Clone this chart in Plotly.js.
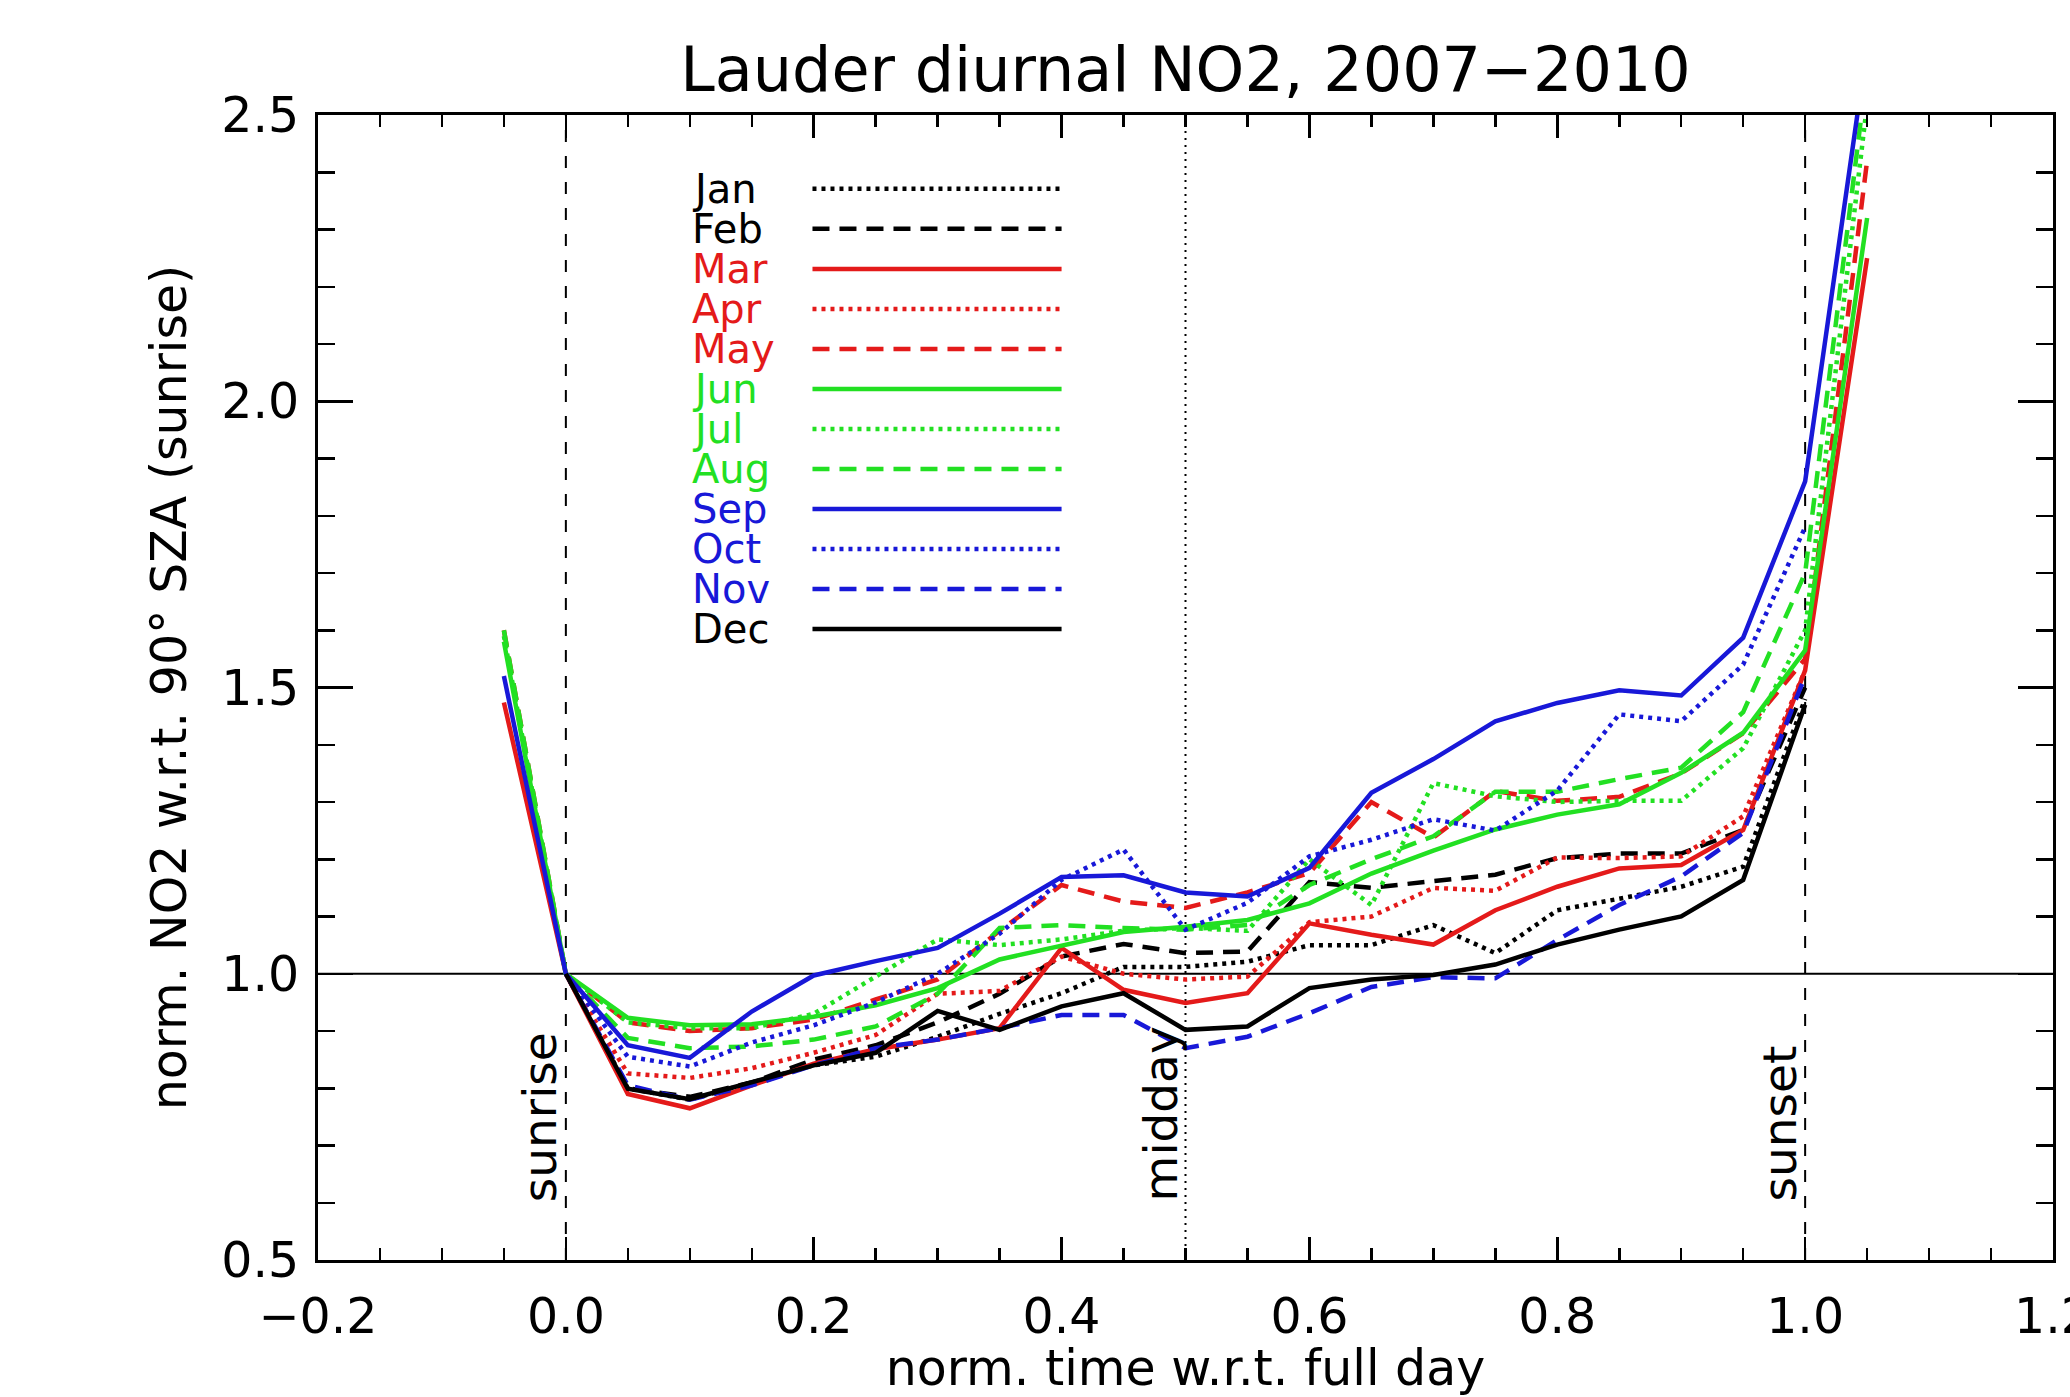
<!DOCTYPE html>
<html>
<head>
<meta charset="utf-8">
<script src="https://cdn.plot.ly/plotly-3.0.1.min.js"></script>
<style>html,body{margin:0;padding:0;background:#fff;}#chart{width:2070px;height:1397px;}</style>
</head>
<body>
<div id="chart"></div>
<script>
// normalized time w.r.t. full day
const xVals = [-0.05, 0.00, 0.05, 0.10, 0.15, 0.20, 0.25, 0.30, 0.35, 0.40, 0.45, 0.50,
               0.55, 0.60, 0.65, 0.70, 0.75, 0.80, 0.85, 0.90, 0.95, 1.00, 1.05];

const monthNames = ["Jan","Feb","Mar","Apr","May","Jun","Jul","Aug","Sep","Oct","Nov","Dec"];

const jan = [null,1.00,0.800,0.780,0.810,0.840,0.855,0.890,0.930,0.966,1.012,1.012,1.021,1.050,1.050,1.085,1.036,1.111,1.131,1.152,1.187,1.480,null];
const feb = [null,1.00,0.800,0.785,0.810,0.850,0.875,0.915,0.965,1.030,1.052,1.036,1.039,1.160,1.150,1.162,1.173,1.202,1.210,1.210,1.251,1.500,null];
const mar = [1.474,1.00,0.790,0.765,0.805,0.843,0.868,0.885,0.905,1.045,0.972,0.949,0.966,1.088,1.068,1.051,1.111,1.152,1.184,1.190,1.251,1.530,2.250];
const apr = [null,1.00,0.826,0.818,0.835,0.862,0.893,0.965,0.970,1.030,1.000,0.990,0.995,1.090,1.100,1.150,1.145,1.203,1.202,1.205,1.275,1.530,null];
const may = [1.600,1.00,0.915,0.900,0.905,0.920,0.955,0.990,1.075,1.155,1.126,1.115,1.142,1.176,1.300,1.238,1.319,1.302,1.309,1.350,1.420,1.550,2.420];
const jun = [1.580,1.00,0.923,0.910,0.912,0.925,0.945,0.975,1.025,1.050,1.073,1.082,1.094,1.123,1.175,1.215,1.252,1.278,1.296,1.351,1.421,1.565,2.320];
const jul = [1.590,1.00,0.915,0.905,0.905,0.930,0.995,1.060,1.050,1.060,1.075,1.080,1.075,1.200,1.120,1.333,1.310,1.300,1.302,1.302,1.394,1.600,2.520];
const aug = [1.600,1.00,0.888,0.870,0.873,0.885,0.908,0.965,1.080,1.085,1.080,1.077,1.085,1.155,1.200,1.240,1.318,1.318,1.340,1.360,1.457,1.700,2.580];
const sep = [1.520,1.00,0.875,0.853,0.934,0.997,1.022,1.045,1.105,1.169,1.172,1.142,1.135,1.185,1.316,1.375,1.441,1.473,1.495,1.486,1.587,1.860,2.620];
const oct = [null,1.00,0.855,0.838,0.880,0.910,0.950,1.000,1.070,1.164,1.217,1.077,1.124,1.205,1.234,1.270,1.250,1.320,1.453,1.441,1.540,1.780,null];
const nov = [null,1.00,0.805,0.780,0.805,0.840,0.870,0.885,0.905,0.928,0.928,0.870,0.890,0.931,0.977,0.994,0.992,1.059,1.120,1.170,1.246,1.520,null];
const dec = [null,1.00,0.799,0.781,0.810,0.840,0.862,0.935,0.902,0.943,0.966,0.902,0.908,0.975,0.990,0.998,1.016,1.051,1.077,1.100,1.164,1.470,null];

const monthSeries = [jan, feb, mar, apr, may, jun, jul, aug, sep, oct, nov, dec];

const BLACK = "#000000", RED = "#e41a1a", GREEN = "#22e022", BLUE = "#1818d8";
const monthColors = [BLACK, BLACK, RED, RED, RED, GREEN, GREEN, GREEN, BLUE, BLUE, BLUE, BLACK];
const DOT = "4px,5px", DASH = "17px,10px", SOLID = "solid";
const monthDash = [DOT, DASH, SOLID, DOT, DASH, SOLID, DOT, DASH, SOLID, DOT, DASH, SOLID];

const markerLabels = ["sunrise", "midday", "sunset"];
const markerX = [0.0, 0.5, 1.0];
const markerDash = ["12px,14px", "2px,5px", "12px,14px"];

const FONT = "DejaVu Sans";
const LW = 4.5;

const traces = monthSeries.map((ys, i) => ({
  type: "scatter",
  mode: "lines",
  x: xVals,
  y: ys,
  name: monthNames[i],
  showlegend: false,
  line: { color: monthColors[i], width: LW, dash: monthDash[i] }
}));

const shapes = [];
const annotations = [];

// reference lines
markerX.forEach((xv, i) => {
  shapes.push({ type: "line", xref: "x", yref: "paper", x0: xv, x1: xv, y0: 0, y1: 1,
    layer: "below", line: { color: BLACK, width: 2, dash: markerDash[i] } });
  annotations.push({ text: markerLabels[i], xref: "x", yref: "paper", x: xv, y: 0.049,
    xanchor: "right", yanchor: "bottom", xshift: 4, textangle: -90, showarrow: false,
    font: { family: FONT, size: 47, color: BLACK } });
});
shapes.push({ type: "line", xref: "paper", yref: "y", x0: 0, x1: 1, y0: 1.0, y1: 1.0,
  layer: "below", line: { color: BLACK, width: 2 } });

// in-plot legend (text left, sample line right)
const legTextX = 0.100, legLineX0 = 0.199, legLineX1 = 0.400;
const legY0 = 2.371, legStep = 0.0699;
monthNames.forEach((m, i) => {
  const yy = legY0 - i * legStep;
  annotations.push({ text: m, xref: "x", yref: "y", x: legTextX, y: yy,
    xanchor: "left", yanchor: "middle", showarrow: false,
    font: { family: FONT, size: 40, color: monthColors[i] } });
  shapes.push({ type: "line", xref: "x", yref: "y", x0: legLineX0, x1: legLineX1, y0: yy, y1: yy,
    line: { color: monthColors[i], width: LW, dash: monthDash[i] } });
});

const layout = {
  width: 2070, height: 1397,
  margin: { l: 318, r: 17, t: 115, b: 137 },
  paper_bgcolor: "#ffffff", plot_bgcolor: "#ffffff",
  font: { family: FONT, size: 49, color: BLACK },
  title: { text: "Lauder diurnal NO2, 2007\u22122010", font: { family: FONT, size: 62, color: BLACK },
    xref: "paper", x: 0.5, xanchor: "center", yref: "container", y: 0.9506, yanchor: "middle" },
  xaxis: {
    range: [-0.2, 1.2], tick0: 0, dtick: 0.2, tickformat: ".1f",
    ticks: "inside", ticklen: 23, tickwidth: 2.5, tickcolor: BLACK,
    showline: true, linewidth: 3, linecolor: BLACK, mirror: "ticks",
    showgrid: false, zeroline: false, ticklabelstandoff: 11, ticklabeloverflow: "allow",
    tickfont: { family: FONT, size: 49, color: BLACK },
    minor: { dtick: 0.05, tick0: 0, ticks: "inside", ticklen: 12, tickwidth: 2.5, tickcolor: BLACK, showgrid: false },
    title: { text: "norm. time w.r.t. full day", font: { family: FONT, size: 49, color: BLACK }, standoff: 26 }
  },
  yaxis: {
    range: [0.5, 2.5], tick0: 0.5, dtick: 0.5, tickformat: ".1f",
    ticks: "inside", ticklen: 35, tickwidth: 2.5, tickcolor: BLACK,
    showline: true, linewidth: 3, linecolor: BLACK, mirror: "ticks",
    showgrid: false, zeroline: false, ticklabelstandoff: 6,
    tickfont: { family: FONT, size: 49, color: BLACK },
    minor: { dtick: 0.1, tick0: 0.5, ticks: "inside", ticklen: 17, tickwidth: 2.5, tickcolor: BLACK, showgrid: false },
    title: { text: "norm. NO2 w.r.t. 90° SZA (sunrise)", font: { family: FONT, size: 49, color: BLACK }, standoff: 20 }
  },
  shapes: shapes,
  annotations: annotations
};

Plotly.newPlot("chart", traces, layout, { staticPlot: true, displayModeBar: false });
</script>
</body>
</html>
